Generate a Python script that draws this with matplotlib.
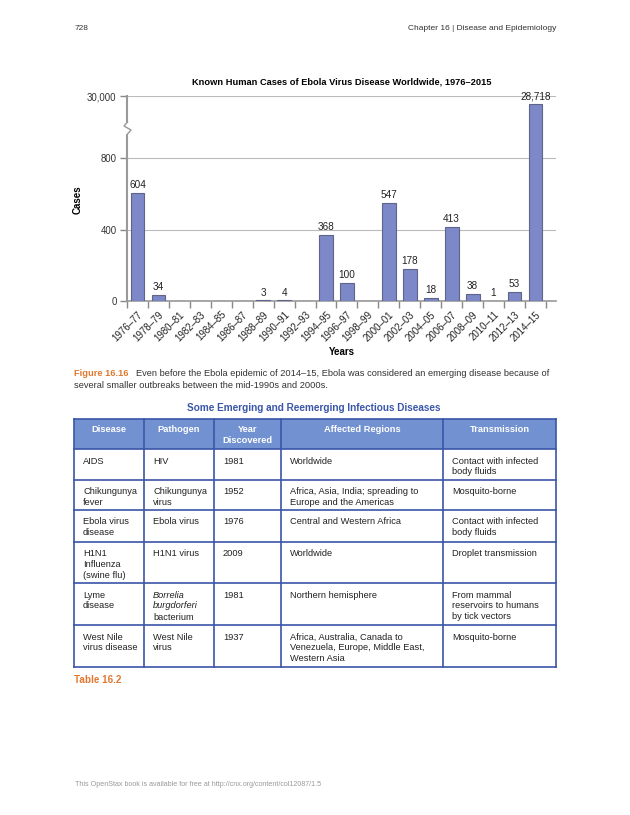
import numpy as np
import matplotlib
matplotlib.use("Agg")
import matplotlib.pyplot as plt
from matplotlib.patches import Rectangle

plt.rcParams['font.family'] = ['Liberation Sans', 'DejaVu Sans']

# chart data
periods = ["1976–77", "1978–79", "1980–81", "1982–83", "1984–85", "1986–87",
           "1988–89", "1990–91", "1992–93", "1994–95", "1996–97", "1998–99",
           "2000–01", "2002–03", "2004–05", "2006–07", "2008–09", "2010–11",
           "2012–13", "2014–15"]
cases = [604, 34, 0, 0, 0, 0, 3, 4, 0, 368, 100, 0, 547, 178, 18, 413, 38, 1, 53, 28718]
y_ticks = [0, 400, 800, 30000]
y_ticklabels = ["0", "400", "800", "30,000"]

# table data
headers = ["Disease", "Pathogen", "Year\nDiscovered", "Affected Regions", "Transmission"]
diseases = ["AIDS", "Chikungunya\nfever", "Ebola virus\ndisease", "H1N1\nInfluenza\n(swine flu)",
            "Lyme\ndisease", "West Nile\nvirus disease"]
pathogens = ["HIV", "Chikungunya\nvirus", "Ebola virus", "H1N1 virus",
             "Borrelia\nburgdorferi\nbacterium", "West Nile\nvirus"]
years = ["1981", "1952", "1976", "2009", "1981", "1937"]
regions = ["Worldwide", "Africa, Asia, India; spreading to\nEurope and the Americas",
           "Central and Western Africa", "Worldwide", "Northern hemisphere",
           "Africa, Australia, Canada to\nVenezuela, Europe, Middle East,\nWestern Asia"]
transmission = ["Contact with infected\nbody fluids", "Mosquito-borne",
                "Contact with infected\nbody fluids", "Droplet transmission",
                "From mammal\nreservoirs to humans\nby tick vectors", "Mosquito-borne"]

W, H = 630, 815
fig = plt.figure(figsize=(W / 100, H / 100), dpi=100)

# page layer in pixel coordinates
page = fig.add_axes([0, 0, 1, 1])
page.set_xlim(0, W)
page.set_ylim(H, 0)
page.axis("off")
page.set_zorder(3)

# --- bar chart with broken y scale ---
# linear up to 800, compressed above the break
b1, b2 = 800, 28718
u1, u2, u3 = 800, 1102.1, 1146.9
k1 = (u2 - u1) / (b2 - b1)
k2 = (u3 - u2) / (30000 - b2)


def fwd(y):
    y = np.asarray(y, float)
    return np.where(y <= b1, y, np.where(y <= b2, u1 + (y - b1) * k1, u2 + (y - b2) * k2))


def inv(u):
    u = np.asarray(u, float)
    return np.where(u <= u1, u, np.where(u <= u2, b1 + (u - u1) / k1, b2 + (u - u2) / k2))


x0, x1, ytop, ybot = 127, 556, 96, 301
ax = fig.add_axes([x0 / W, (H - ybot) / H, (x1 - x0) / W, (ybot - ytop) / H])
ax.set_yscale("function", functions=(fwd, inv))
ax.set_ylim(0, 30000)
ax.set_xlim(-0.5, 19.98)

xs = np.arange(len(periods))
ax.bar(xs, cases, width=0.66, color="#7c88c7", edgecolor="#60648a", linewidth=0.8, zorder=3)
for x, v in zip(xs, cases):
    if v > 0:
        ax.annotate(f"{v:,}", (x, v), xytext=(0, 2), textcoords="offset points",
                    ha="center", va="bottom", fontsize=7.2, color="#222222",
                    annotation_clip=False, zorder=4)

ax.set_yticks(y_ticks)
ax.set_yticklabels(y_ticklabels)
ax.yaxis.set_minor_locator(matplotlib.ticker.NullLocator())
ax.grid(axis="y", color="#bbbbbb", linewidth=0.8, zorder=0)
ax.set_xticks(xs)
ax.set_xticklabels(periods, rotation=45, ha="right", va="top", rotation_mode="anchor")
ax.set_xticks(np.arange(-0.5, 20, 1), minor=True)
ax.tick_params(axis="x", which="major", length=0, labelsize=6.9, pad=6, colors="#222222")
ax.tick_params(axis="x", which="minor", length=5, color="#888888", width=1)
ax.tick_params(axis="y", length=5, color="#888888", width=1, labelsize=6.9,
               labelcolor="#333333", pad=2.5)
for s in ["top", "right"]:
    ax.spines[s].set_visible(False)
ax.spines["left"].set_color("#999999")
ax.spines["left"].set_linewidth(1.5)
ax.spines["bottom"].set_color("#999999")
ax.spines["bottom"].set_linewidth(1.2)
ax.set_ylabel("Cases", fontsize=7, fontweight="bold")
ax.yaxis.set_label_coords((83 - x0) / (x1 - x0), (ybot - 200) / (ybot - ytop))
ax.set_xlabel("Years", fontsize=7, fontweight="bold", labelpad=3)
ax.set_title("Known Human Cases of Ebola Virus Disease Worldwide, 1976–2015",
             fontsize=6.7, fontweight="bold", pad=8.5)

# axis break mark
page.add_patch(Rectangle((125, 123), 5, 10, color="white", zorder=5))
page.plot([127.5, 124, 131, 127.5], [122, 126, 130, 134], color="#999999", lw=1, zorder=6)

# --- page header / caption ---
page.text(75, 29, "728", fontsize=6, color="#333333", va="center")
page.text(556, 29, "Chapter 16 | Disease and Epidemiology", fontsize=6, color="#333333",
          va="center", ha="right")
page.text(74, 373, "Figure 16.16", fontsize=6.7, color="#e07830", fontweight="bold", va="center")
page.text(136, 373, "Even before the Ebola epidemic of 2014–15, Ebola was considered an emerging disease because of",
          fontsize=6.7, color="#333333", va="center")
page.text(74, 385, "several smaller outbreaks between the mid-1990s and 2000s.",
          fontsize=6.7, color="#333333", va="center")
page.text(314, 408, "Some Emerging and Reemerging Infectious Diseases", fontsize=7.2,
          color="#3a56a8", fontweight="bold", ha="center", va="center")

# --- table ---
cols = [74, 144, 214, 281, 443, 556]
rows = [419, 449, 480, 510, 542, 583, 625, 667]
border = "#3b55a8"
fs = 6.7
ls = 1.27
page.add_patch(Rectangle((cols[0], rows[0]), cols[-1] - cols[0], rows[1] - rows[0],
                         facecolor="#7191d0", edgecolor="none"))
for i, h in enumerate(headers):
    page.text((cols[i] + cols[i + 1]) / 2, rows[0] + 6.5, h, ha="center", va="top",
              fontsize=fs, color="white", fontweight="bold", linespacing=ls)
table_cols = [diseases, pathogens, years, regions, transmission]
for r in range(len(diseases)):
    for c, col in enumerate(table_cols):
        txt = col[r]
        tx, ty = cols[c] + 9, rows[r + 1] + 7.5
        if c == 1 and r == 4:
            lines = txt.split("\n")
            page.text(tx, ty, "\n".join(lines[:2]), ha="left", va="top",
                      fontsize=fs, color="#222222", style="italic", linespacing=ls)
            page.text(tx, ty + 2 * 11.3, lines[2], ha="left", va="top",
                      fontsize=fs, color="#222222", linespacing=ls)
        else:
            page.text(tx, ty, txt, ha="left", va="top",
                      fontsize=fs, color="#222222", linespacing=ls)
for y in rows:
    page.plot([cols[0], cols[-1]], [y, y], color=border, lw=1.2)
for x in cols:
    page.plot([x, x], [rows[0], rows[-1]], color=border, lw=1.2)

page.text(74, 680, "Table 16.2", fontsize=7.1, color="#e07830", fontweight="bold", va="center")
page.text(75, 785, "This OpenStax book is available for free at http://cnx.org/content/col12087/1.5",
          fontsize=5.1, color="#999999", va="center")

fig.savefig("out.png", dpi=100)
